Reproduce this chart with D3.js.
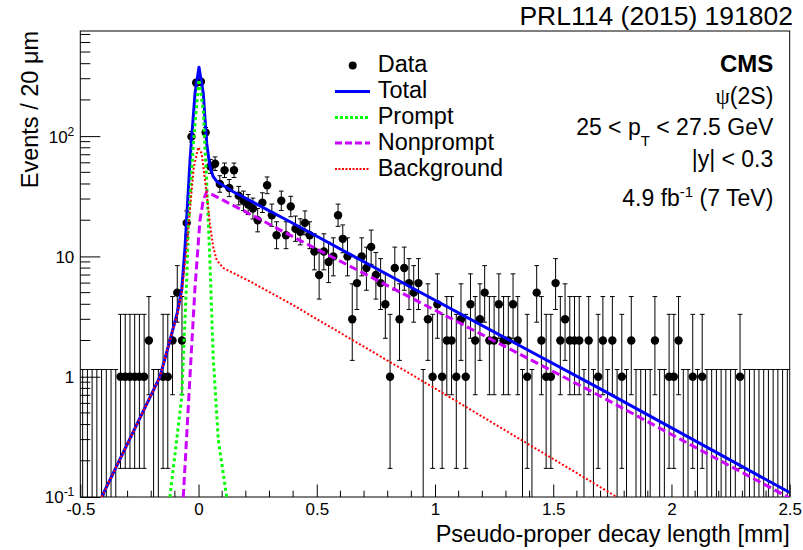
<!DOCTYPE html>
<html>
<head>
<meta charset="utf-8">
<script src="https://cdn.jsdelivr.net/npm/d3@7"></script>
<style>
  body { margin: 0; background: #fff; }
  svg text { font-family: "Liberation Sans", Arial, Helvetica, sans-serif; fill: #000; }
</style>
</head>
<body>
<svg id="chart"></svg>
<script>
const width = 803, height = 550;
const frame = { left: 80.3, right: 789.7, top: 31, bottom: 497 };

// Histogram: 150 bins of 20 um from -0.5 to 2.5 mm
const xMin = -0.5, xMax = 2.5, binWidth = 0.02;
const counts = [
  0, 0, 0, 0, 0, 0, 0, 0, 1, 1,
  1, 1, 1, 1, 2, 0, 0, 1, 1, 2,
  5, 2, 19, 99, 278, 283, 107, 56, 59, 40,
  52, 37, 52, 32, 29, 27, 25, 20, 28, 39,
  22, 15, 29, 15, 26, 17, 16, 19, 15, 11,
  7, 11, 9, 10, 22, 14, 10, 3, 6, 10,
  8, 12, 7, 6, 4, 1, 8, 3, 8, 6,
  5, 6, 0, 3, 1, 4, 1, 2, 2, 1,
  3, 1, 4, 2, 3, 5, 2, 2, 4, 2,
  2, 4, 2, 0, 1, 0, 5, 2, 1, 1,
  6, 2, 3, 2, 2, 2, 0, 2, 0, 1,
  2, 0, 2, 0, 1, 0, 2, 0, 0, 0,
  0, 2, 0, 0, 1, 1, 2, 0, 0, 1,
  0, 1, 0, 0, 0, 0, 0, 0, 0, 1,
  0, 0, 0, 0, 0, 0, 0, 0, 0, 0
];

// Poisson 68% intervals for small counts, as drawn in the plot
const poissonLow  = [0, 0.173, 0.708, 1.367, 2.086, 2.840, 3.620, 4.419, 5.232, 6.057, 6.891, 7.734, 8.585];
const poissonHigh = [1.148, 3.300, 4.638, 5.918, 7.163, 8.382, 9.584, 10.77, 11.95, 13.11, 14.27, 15.42, 16.56];

// Fit components: [decay length (mm), events]
const totalCurve = [
  [-0.4095, 0.1], [-0.163, 1.0], [-0.121, 2.0], [-0.090, 3.4], [-0.071, 5.3], [-0.057, 12], [-0.036, 63],
  [-0.015, 226], [0.002, 373], [0.020, 227], [0.0345, 87], [0.048, 56], [0.062, 46], [0.077, 42],
  [0.147, 34.5], [0.387, 19.4], [0.957, 4.8], [1.705, 0.78], [2.5, 0.109]
];
const promptCurve = [
  [-0.121, 0.1], [-0.071, 0.68], [-0.0645, 1.38], [-0.050, 6.4], [-0.043, 17.7], [-0.022, 87],
  [-0.001, 258], [0.002, 295], [0.020, 165], [0.0345, 40.5], [0.048, 9.3], [0.062, 1.47],
  [0.0835, 0.3], [0.119, 0.1]
];
const nonpromptCurve = [
  [-0.0645, 0.1], [-0.029, 1.8], [-0.015, 5.5], [0.006, 20], [0.020, 29.4], [0.0345, 34.5],
  [0.2175, 22.5], [0.429, 13.6], [1.021, 3.4], [1.648, 0.78], [2.5, 0.098]
];
const backgroundCurve = [
  [-0.4095, 0.1], [-0.163, 1.0], [-0.121, 2.0], [-0.090, 3.3], [-0.071, 5.0], [-0.050, 12], [-0.036, 25],
  [-0.020, 55], [-0.001, 81], [0.013, 72], [0.0345, 33.5], [0.048, 18.8], [0.062, 12],
  [0.077, 9.3], [0.105, 8.0], [0.2175, 6.2], [0.387, 4.07], [0.986, 0.83], [1.769, 0.1]
];

// Axis ticks
const xTickValues = [-0.5, 0, 0.5, 1, 1.5, 2, 2.5];
const yTickValues = [0.1, 1, 10, 100];
const yTickLabels = [["10", "-1"], ["1", ""], ["10", ""], ["10", "2"]];

const legendLabels = ["Data", "Total", "Prompt", "Nonprompt", "Background"];

// Setup SVG
const svg = d3.select("#chart")
    .attr("width", width)
    .attr("height", height)
    .attr("viewBox", [0, 0, width, height]);

svg.append("defs").append("clipPath").attr("id", "clip")
    .append("rect")
    .attr("x", frame.left).attr("y", frame.top)
    .attr("width", frame.right - frame.left)
    .attr("height", frame.bottom - frame.top);

// Scales
const x = d3.scaleLinear().domain([xMin, xMax]).range([frame.left, frame.right]);
const y = d3.scaleLog().domain([0.1, 748]).range([frame.bottom, frame.top]);

// Frame
svg.append("rect")
    .attr("x", frame.left).attr("y", frame.top)
    .attr("width", frame.right - frame.left)
    .attr("height", frame.bottom - frame.top)
    .attr("fill", "none")
    .attr("stroke", "#000")
    .attr("stroke-width", 1);

// X axis (ticks pointing inward like ROOT)
const xAxis = svg.append("g")
    .attr("transform", `translate(0,${frame.bottom})`)
    .call(d3.axisBottom(x)
        .tickValues(xTickValues)
        .tickSizeInner(-12.5)
        .tickSizeOuter(0)
        .tickPadding(6)
        .tickFormat(d => String(d)));
xAxis.select(".domain").remove();
xAxis.selectAll("line").attr("stroke", "#000");
xAxis.selectAll("text")
    .attr("font-size", 17)
    .attr("font-family", "Liberation Sans, Arial, sans-serif");

const xMinor = d3.range(-4, 25).map(i => i / 10).filter(v => Math.abs(v * 2 - Math.round(v * 2)) > 1e-6);
svg.append("g").selectAll("line")
    .data(xMinor)
    .enter()
    .append("line")
    .attr("x1", d => x(d)).attr("x2", d => x(d))
    .attr("y1", frame.bottom).attr("y2", frame.bottom - 6.3)
    .attr("stroke", "#000");

// Y axis
const yAxis = svg.append("g")
    .attr("transform", `translate(${frame.left},0)`)
    .call(d3.axisLeft(y)
        .tickValues(yTickValues)
        .tickSizeInner(-20)
        .tickSizeOuter(0)
        .tickPadding(6)
        .tickFormat(() => ""));
yAxis.select(".domain").remove();
yAxis.selectAll("line").attr("stroke", "#000");
yAxis.selectAll(".tick text").each(function(d, i) {
    const t = d3.select(this)
        .attr("font-size", 17)
        .attr("font-family", "Liberation Sans, Arial, sans-serif")
        .attr("dy", "0.35em");
    const [base, sup] = yTickLabels[i];
    t.append("tspan").text(base);
    if (sup) t.append("tspan").attr("dy", -7).attr("font-size", 12).text(sup);
});

const yMinor = [];
[0.1, 1, 10, 100].forEach(dec => {
    for (let k = 2; k <= 9; k++) if (dec * k < 748) yMinor.push(dec * k);
});
svg.append("g").selectAll("line")
    .data(yMinor)
    .enter()
    .append("line")
    .attr("x1", frame.left).attr("x2", frame.left + 10)
    .attr("y1", d => y(d)).attr("y2", d => y(d))
    .attr("stroke", "#000");

// Axis titles
svg.append("text")
    .attr("text-anchor", "end")
    .attr("x", frame.right)
    .attr("y", 542)
    .attr("font-size", 23.5)
    .text("Pseudo-proper decay length [mm]");

svg.append("text")
    .attr("text-anchor", "end")
    .attr("transform", `translate(37.5,${frame.top})rotate(-90)`)
    .attr("font-size", 23.5)
    .text("Events / 20 μm");

// Data error bars
const bins = counts.map((n, i) => {
    const c = xMin + binWidth * (i + 0.5);
    const lo = n < poissonLow.length ? poissonLow[n] : n + 0.5 - Math.sqrt(n + 0.25);
    const hi = n < poissonHigh.length ? poissonHigh[n] : n + 0.5 + Math.sqrt(n + 0.25);
    return { c, n, lo, hi };
});
const capHalf = (x(binWidth) - x(0)) / 2;

const bars = svg.append("g").attr("clip-path", "url(#clip)")
    .attr("stroke", "#000")
    .attr("stroke-width", 1);

bars.selectAll(".err")
    .data(bins)
    .enter()
    .append("line")
    .attr("class", "err")
    .attr("x1", d => x(d.c)).attr("x2", d => x(d.c))
    .attr("y1", d => d.lo > 0.1 ? y(d.lo) : frame.bottom)
    .attr("y2", d => y(d.hi));

bars.selectAll(".cap-hi")
    .data(bins)
    .enter()
    .append("line")
    .attr("class", "cap-hi")
    .attr("x1", d => x(d.c) - capHalf).attr("x2", d => x(d.c) + capHalf)
    .attr("y1", d => y(d.hi)).attr("y2", d => y(d.hi));

bars.selectAll(".cap-lo")
    .data(bins.filter(d => d.lo > 0.1))
    .enter()
    .append("line")
    .attr("class", "cap-lo")
    .attr("x1", d => x(d.c) - capHalf).attr("x2", d => x(d.c) + capHalf)
    .attr("y1", d => y(d.lo)).attr("y2", d => y(d.lo));

// Data markers
svg.append("g").attr("clip-path", "url(#clip)")
    .selectAll("circle")
    .data(bins.filter(d => d.n > 0))
    .enter()
    .append("circle")
    .attr("cx", d => x(d.c))
    .attr("cy", d => y(d.n))
    .attr("r", 4.2)
    .attr("fill", "#000");

// Fit curves on top of the data, components over the total
const line = d3.line()
    .x(d => x(d[0]))
    .y(d => y(d[1]))
    .curve(d3.curveLinear);

const curves = svg.append("g").attr("clip-path", "url(#clip)");

curves.append("path")
    .attr("d", line(totalCurve))
    .attr("fill", "none")
    .attr("stroke", "#0000ff")
    .attr("stroke-width", 3)
    .attr("stroke-linejoin", "round");

curves.append("path")
    .attr("d", line(promptCurve))
    .attr("fill", "none")
    .attr("stroke", "#00ff00")
    .attr("stroke-width", 3)
    .attr("stroke-dasharray", "3,3");

curves.append("path")
    .attr("d", line(nonpromptCurve))
    .attr("fill", "none")
    .attr("stroke", "#cc00ff")
    .attr("stroke-width", 3)
    .attr("stroke-dasharray", "8,4");

curves.append("path")
    .attr("d", line(backgroundCurve))
    .attr("fill", "none")
    .attr("stroke", "#ff0000")
    .attr("stroke-width", 2)
    .attr("stroke-dasharray", "2,2");

// Legend
const legendStyles = [
    { type: "marker" },
    { stroke: "#0000ff", width: 3, dash: null },
    { stroke: "#00ff00", width: 3, dash: "3,2" },
    { stroke: "#cc00ff", width: 3, dash: "7,3" },
    { stroke: "#ff0000", width: 2, dash: "2,1.5" }
];
const legendBaselines = [72, 98, 124, 149.5, 175.5];
const legend = svg.append("g");
legendLabels.forEach((label, i) => {
    const s = legendStyles[i];
    const by = legendBaselines[i];
    if (s.type === "marker") {
        legend.append("circle").attr("cx", 352.7).attr("cy", by - 6.5).attr("r", 4).attr("fill", "#000");
    } else {
        legend.append("line")
            .attr("x1", 335).attr("x2", 370)
            .attr("y1", by - 6.5).attr("y2", by - 6.5)
            .attr("stroke", s.stroke)
            .attr("stroke-width", s.width)
            .attr("stroke-dasharray", s.dash);
    }
    legend.append("text")
        .attr("x", 377.7)
        .attr("y", by)
        .attr("font-size", 23.5)
        .text(label);
});

// Top publication reference
svg.append("text")
    .attr("text-anchor", "end")
    .attr("x", 793)
    .attr("y", 25)
    .attr("font-size", 26.5)
    .text("PRL114 (2015) 191802");

// CMS label block
const textRight = 773.3;
svg.append("text")
    .attr("text-anchor", "end")
    .attr("x", textRight).attr("y", 72)
    .attr("font-size", 24)
    .attr("font-weight", "bold")
    .text("CMS");

const psi = svg.append("text")
    .attr("text-anchor", "end")
    .attr("x", textRight).attr("y", 104)
    .attr("font-size", 23);
psi.append("tspan").attr("font-family", "Liberation Serif, serif").text("ψ");
psi.append("tspan").text("(2S)");

const ptText = svg.append("text")
    .attr("text-anchor", "end")
    .attr("x", textRight).attr("y", 135)
    .attr("font-size", 23);
ptText.append("tspan").text("25 < p");
ptText.append("tspan").attr("dy", 11).attr("font-size", 15).text("T");
ptText.append("tspan").attr("dy", -11).text(" < 27.5 GeV");

svg.append("text")
    .attr("text-anchor", "end")
    .attr("x", textRight).attr("y", 167)
    .attr("font-size", 23)
    .text("|y| < 0.3");

const lumi = svg.append("text")
    .attr("text-anchor", "end")
    .attr("x", textRight).attr("y", 206)
    .attr("font-size", 23);
lumi.append("tspan").text("4.9 fb");
lumi.append("tspan").attr("dy", -9).attr("font-size", 15).text("-1");
lumi.append("tspan").attr("dy", 9).text(" (7 TeV)");
</script>
</body>
</html>
